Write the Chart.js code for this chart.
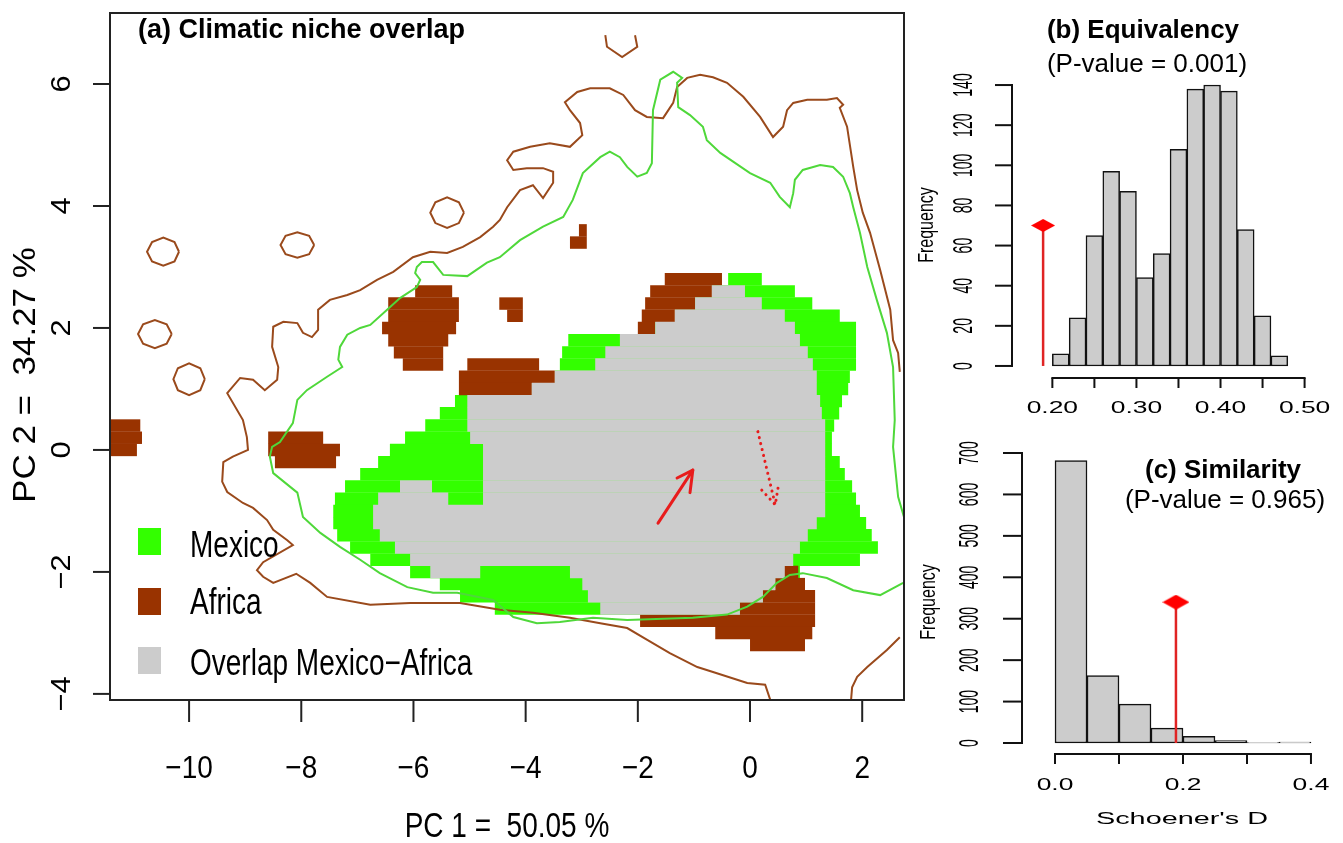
<!DOCTYPE html>
<html><head><meta charset="utf-8">
<script src="https://cdn.jsdelivr.net/npm/chart.js@4.4.0/dist/chart.umd.min.js"></script>
<style>
html,body{margin:0;padding:0;background:#fff;width:1343px;height:843px;overflow:hidden;}
canvas{position:absolute;}
#ca{left:0;top:0;width:915px;height:843px;}
#cb{left:915px;top:0;width:428px;height:420px;}
#cc{left:915px;top:420px;width:428px;height:423px;}
</style></head><body>
<canvas id="ca" width="915" height="843"></canvas>
<canvas id="cb" width="428" height="420"></canvas>
<canvas id="cc" width="428" height="423"></canvas>
<script>
// ---------- Panel (a): climatic niche overlap (PC1 / PC2 space) ----------
// grid cells: [PC2 row, PC1 start, PC1 end]
const mexicoCells = [
[2.8,-0.39,0.21],[2.6,-0.68,0.80],[2.4,-0.98,1.11],[2.2,-1.34,1.60],[2.0,-1.69,1.89],
[1.8,-3.24,1.89],[1.6,-3.35,1.89],[1.4,-3.39,1.89],[1.2,-3.48,1.78],[1.0,-3.89,1.75],
[0.8,-5.26,1.64],[0.6,-5.53,1.59],[0.4,-5.79,1.50],[0.2,-6.15,1.46],[0.0,-6.42,1.46],
[-0.2,-6.63,1.60],[-0.4,-6.95,1.69],[-0.6,-7.22,1.82],[-0.8,-7.40,1.89],[-1.0,-7.43,1.96],
[-1.2,-7.43,2.07],[-1.4,-7.36,2.17],[-1.6,-7.13,2.28],[-1.8,-6.77,1.96],[-2.0,-6.06,0.89],
[-2.2,-5.53,0.45],[-2.4,-5.17,0.23],[-2.6,-4.55,-0.18]
];
const africaCells = [
[3.6,-3.05,-2.91],[3.4,-3.21,-2.91],
[2.8,-1.52,-0.50],
[2.6,-1.78,-0.68],[2.6,-5.97,-5.31],
[2.4,-1.87,-0.98],[2.4,-6.45,-5.19],[2.4,-4.47,-4.05],
[2.2,-1.93,-1.34],[2.2,-6.45,-5.19],[2.2,-4.33,-4.05],
[2.0,-2.00,-1.69],[2.0,-6.56,-5.24],
[1.8,-6.45,-5.38],[1.6,-6.35,-5.47],
[1.4,-6.19,-5.47],[1.4,-5.04,-3.76],
[1.2,-5.19,-3.48],[1.0,-5.19,-3.89],
[0.4,-11.41,-10.87],
[0.2,-11.41,-10.84],[0.2,-8.59,-7.61],
[0.0,-11.41,-10.93],[0.0,-8.59,-7.31],
[-0.2,-8.47,-7.38],
[-2.0,0.53,0.86],[-2.2,0.45,0.98],[-2.4,0.23,1.16],[-2.6,-0.18,1.16],
[-2.8,-1.96,1.16],[-3.0,-0.62,1.11],[-3.2,0.00,0.98]
];
const overlapCells = [
[2.6,-0.68,-0.09],[2.4,-0.98,0.21],[2.2,-1.34,0.62],[2.0,-1.69,0.80],[1.8,-2.32,0.89],
[1.6,-2.58,1.03],[1.4,-2.76,1.12],[1.2,-3.48,1.19],[1.0,-3.89,1.19],[0.8,-5.04,1.25],
[0.6,-5.04,1.28],[0.4,-5.04,1.34],[0.2,-4.99,1.34],[0.0,-4.76,1.34],[-0.2,-4.76,1.34],
[-0.4,-4.76,1.34],[-0.6,-6.24,-5.67],[-0.6,-4.76,1.34],[-0.8,-6.63,-5.38],[-0.8,-4.76,1.34],
[-1.0,-6.72,1.34],[-1.2,-6.72,1.19],[-1.4,-6.60,1.03],[-1.6,-6.33,0.89],[-1.8,-6.06,0.77],
[-2.0,-5.70,-4.81],[-2.0,-3.21,0.62],[-2.2,-2.99,0.45],[-2.4,-2.89,0.23],[-2.6,-2.67,-0.18]
];
// contour lines [PC1, PC2]
const africaContourMain = [
[0.45,-4.34],[0.27,-3.85],[-0.05,-3.82],[-0.66,-3.64],[-0.94,-3.56],[-1.43,-3.33],[-1.84,-3.11],[-2.19,-2.92],[-2.67,-2.84],[-3.21,-2.75],[-3.87,-2.67],[-4.46,-2.62],[-5.17,-2.51],[-6.06,-2.51],[-6.77,-2.54],[-7.54,-2.41],[-7.84,-2.18],[-8.09,-2.03],[-8.50,-2.18],[-8.68,-2.08],[-8.79,-1.97],[-8.68,-1.84],[-8.15,-1.56],[-8.25,-1.48],[-8.50,-1.31],[-8.61,-1.15],[-8.86,-0.95],[-9.04,-0.87],[-9.32,-0.69],[-9.41,-0.52],[-9.39,-0.20],[-9.22,-0.11],[-8.95,0],[-8.97,0.21],[-9.04,0.49],[-9.32,0.93],[-9.09,1.18],[-8.86,1.15],[-8.65,0.98],[-8.43,1.15],[-8.41,1.36],[-8.52,1.69],[-8.50,2.02],[-8.32,2.10],[-8.07,2.08],[-7.97,1.92],[-7.81,1.85],[-7.70,1.97],[-7.70,2.30],[-7.49,2.46],[-7.18,2.54],[-6.95,2.62],[-6.65,2.79],[-6.36,2.92],[-6.01,3.16],[-5.70,3.25],[-5.40,3.23],[-5.12,3.33],[-4.81,3.49],[-4.58,3.66],[-4.46,3.77],[-4.33,3.98],[-4.10,4.26],[-3.87,4.34],[-3.69,4.13],[-3.51,4.38],[-3.51,4.56],[-3.69,4.62],[-3.98,4.62],[-4.22,4.59],[-4.33,4.75],[-4.22,4.89],[-3.92,4.97],[-3.57,5.03],[-3.21,4.97],[-2.99,5.16],[-3.03,5.36],[-3.21,5.57],[-3.30,5.70],[-3.08,5.87],[-2.85,5.93],[-2.50,5.93],[-2.26,5.82],[-2.05,5.57],[-1.84,5.46],[-1.55,5.44],[-1.37,5.69],[-1.30,5.95],[-1.12,6.10],[-0.89,6.15],[-0.66,6.11],[-0.41,6.02],[-0.12,5.79],[0.18,5.46],[0.41,5.13],[0.59,5.30],[0.66,5.57],[0.77,5.69],[1.02,5.74],[1.37,5.74],[1.55,5.77],[1.66,5.66],[1.60,5.61],[1.73,5.30],[1.84,4.64],[1.91,4.26],[2.01,3.89],[2.14,3.56],[2.32,2.95],[2.50,2.30],[2.55,1.80],[2.64,1.59],[2.67,1.28]
];
const africaContourCorner = [[2.67,-3.07],[2.44,-3.28],[2.09,-3.56],[1.91,-3.72],[1.82,-3.89],[1.78,-4.34]];
const africaContourTop = [[-2.58,6.80],[-2.55,6.61],[-2.28,6.44],[-2.01,6.61],[-2.05,6.80]];
const africaRing1 = [[-10.18,3.25],[-10.26,3.41],[-10.46,3.48],[-10.66,3.41],[-10.75,3.25],[-10.66,3.09],[-10.46,3.02],[-10.26,3.09],[-10.18,3.25]];
const africaRing2 = [[-7.77,3.36],[-7.86,3.51],[-8.07,3.57],[-8.28,3.51],[-8.37,3.36],[-8.28,3.21],[-8.07,3.15],[-7.86,3.21],[-7.77,3.36]];
const africaRing3 = [[-5.10,3.89],[-5.19,4.06],[-5.40,4.14],[-5.61,4.06],[-5.70,3.89],[-5.61,3.72],[-5.40,3.64],[-5.19,3.72],[-5.10,3.89]];
const africaRing4 = [[-10.31,1.90],[-10.40,2.06],[-10.61,2.13],[-10.82,2.06],[-10.91,1.90],[-10.82,1.74],[-10.61,1.67],[-10.40,1.74],[-10.31,1.90]];
const africaRing5 = [[-9.72,1.16],[-9.80,1.34],[-10.00,1.42],[-10.20,1.34],[-10.28,1.16],[-10.20,0.98],[-10.00,0.90],[-9.80,0.98],[-9.72,1.16]];
const mexicoContour = [
[2.73,-2.18],[2.32,-2.38],[1.84,-2.30],[1.37,-2.10],[0.94,-2.02],[0.71,-2.05],[0.48,-2.18],[0.23,-2.41],[-0.05,-2.57],[-0.41,-2.70],[-1.02,-2.75],[-2.19,-2.79],[-2.80,-2.75],[-3.39,-2.82],[-3.80,-2.84],[-4.22,-2.74],[-4.58,-2.46],[-5.22,-2.34],[-5.65,-2.34],[-6.11,-2.25],[-6.60,-2.02],[-6.95,-1.80],[-7.31,-1.59],[-7.66,-1.36],[-7.97,-1.10],[-8.07,-0.70],[-8.50,-0.38],[-8.56,-0.11],[-8.52,0.05],[-8.38,0.13],[-8.15,0.44],[-8.07,0.82],[-7.90,0.98],[-7.54,1.20],[-7.27,1.36],[-7.34,1.48],[-7.31,1.69],[-7.18,1.89],[-6.95,2.00],[-6.77,2.05],[-6.47,2.30],[-6.24,2.49],[-5.94,2.67],[-5.88,2.79],[-5.97,2.90],[-5.94,3.00],[-5.85,3.08],[-5.65,3.08],[-5.47,2.87],[-5.04,2.85],[-4.69,3.07],[-4.46,3.16],[-4.10,3.44],[-3.69,3.66],[-3.33,3.82],[-3.16,4.10],[-2.98,4.54],[-2.67,4.80],[-2.50,4.89],[-2.32,4.80],[-2.19,4.64],[-2.01,4.48],[-1.84,4.54],[-1.75,4.70],[-1.73,5.57],[-1.60,6.07],[-1.37,6.20],[-1.21,6.10],[-1.30,6.02],[-1.28,5.62],[-1.07,5.49],[-0.84,5.30],[-0.77,5.08],[-0.53,4.87],[0,4.54],[0.36,4.38],[0.53,4.15],[0.71,3.98],[0.77,4.21],[0.80,4.43],[0.94,4.59],[1.25,4.67],[1.48,4.64],[1.66,4.48],[1.78,4.21],[1.84,3.98],[1.96,3.56],[2.09,3.00],[2.26,2.46],[2.44,1.92],[2.55,1.36],[2.58,0.49],[2.55,0.05],[2.64,-0.77],[2.76,-1.15]
];
const shiftArrowShaft = [[-1.64,-1.20],[-1.02,-0.33]];
const shiftArrowHead = [[-1.30,-0.46],[-1.02,-0.33],[-1.07,-0.70]];
const centroidArrowShaft = [[0.14,0.30],[0.45,-0.90]];
const centroidArrowHead = [[0.21,-0.66],[0.45,-0.90],[0.50,-0.62]];
const aTicksX = [-10,-8,-6,-4,-2,0,2];
const aTicksY = [-4,-2,0,2,4,6];
const legendLabels = ['Mexico','Africa','Overlap Mexico\u2212Africa'];

// ---------- Panel (b): equivalency test ----------
const equivBinMid = [0.21,0.23,0.25,0.27,0.29,0.31,0.33,0.35,0.37,0.39,0.41,0.43,0.45,0.47];
const equivCounts = [6,24,65,97,87,44,56,108,138,140,137,68,25,5];
const equivObsD = 0.189, equivObsH = 70;
const bTicksY = [0,20,40,60,80,100,120,140];
const bTicksX = [0.20,0.25,0.30,0.35,0.40,0.45,0.50];
const bLabelsX = [0.20,0.30,0.40,0.50];

// ---------- Panel (c): similarity test ----------
const simBinMid = [0.025,0.075,0.125,0.175,0.225,0.275,0.325,0.375];
const simCounts = [682,163,94,36,16,6,1,2];
const simObsD = 0.189, simObsH = 340;
const cTicksY = [0,100,200,300,400,500,600,700];
const cTicksX = [0,0.1,0.2,0.3,0.4];
const cLabelsX = [0,0.2,0.4];

// ---------- helpers ----------
const FONT = '"Liberation Sans", Arial, Helvetica, sans-serif';
const C_MEX = '#33ff00', C_AFR = '#993300', C_OVL = '#cccccc';
function txt(ctx, s, x, y, o) {
  ctx.save();
  ctx.translate(x, y);
  ctx.scale(o.sx || 1, o.sy || 1);
  if (o.rot) ctx.rotate(-Math.PI / 2);
  ctx.font = o.font;
  ctx.fillStyle = o.color || '#000';
  ctx.textAlign = o.align || 'center';
  ctx.textBaseline = 'alphabetic';
  ctx.fillText(s, 0, 0);
  ctx.restore();
}
function seg(ctx, x1, y1, x2, y2) { ctx.beginPath(); ctx.moveTo(x1, y1); ctx.lineTo(x2, y2); ctx.stroke(); }
function fmtMinus(v) { return v < 0 ? '\u2212' + Math.abs(v) : String(v); }
function cells(arr) { return arr.map(c => ({y: c[0], x: [c[1], c[2]]})); }
function pts(arr) { return arr.map(p => ({x: p[0], y: p[1]})); }
function lineDs(arr, color, w, extra) {
  return Object.assign({type: 'scatter', data: pts(arr), showLine: true, borderColor: color, backgroundColor: color,
    borderWidth: w, pointRadius: 0, fill: false, tension: 0, order: 1}, extra || {});
}
function cellDs(label, arr, color, order) {
  return {type: 'bar', indexAxis: 'y', label, data: cells(arr), backgroundColor: color, borderWidth: 0,
    grouped: false, barPercentage: 1.02, categoryPercentage: 1, order};
}
function diamond(w, h, color) {
  const c = document.createElement('canvas'); c.width = w; c.height = h;
  const g = c.getContext('2d'); g.fillStyle = color; g.beginPath();
  g.moveTo(0, h / 2); g.lineTo(w / 2, 0); g.lineTo(w, h / 2); g.lineTo(w / 2, h); g.closePath(); g.fill();
  return c;
}

// ---------- Panel (a) chart ----------
const BROWN_LINE = '#9a4a1c', GREEN_LINE = '#4fd83a', RED = '#e81c1c';
const panelA = {
  id: 'panelA',
  afterDraw(chart) {
    const {ctx, chartArea: a, scales: {x, y}} = chart;
    ctx.save();
    ctx.strokeStyle = '#222'; ctx.lineWidth = 2;
    ctx.strokeRect(a.left, a.top, a.right - a.left, a.bottom - a.top);
    aTicksX.forEach(v => {
      const p = x.getPixelForValue(v);
      seg(ctx, p, a.bottom, p, a.bottom + 22);
      txt(ctx, fmtMinus(v), p, 778, {font: '28px ' + FONT, sy: 1.15});
    });
    aTicksY.forEach(v => {
      const p = y.getPixelForValue(v);
      seg(ctx, a.left - 17, p, a.left, p);
      txt(ctx, fmtMinus(v), 70, p, {font: '28px ' + FONT, sy: 1.1, rot: true});
    });
    txt(ctx, 'PC 1 =  50.05 %', 507, 837, {font: '28px ' + FONT, sy: 1.25});
    txt(ctx, 'PC 2 =  34.27 %', 35, 375, {font: '28px ' + FONT, sx: 1.1, sy: 1.25, rot: true});
    txt(ctx, '(a) Climatic niche overlap', 138, 38, {font: 'bold 27px ' + FONT, align: 'left'});
    const cols = [C_MEX, C_AFR, C_OVL];
    const boxes = [[528, 557], [588, 614], [647, 675]];
    legendLabels.forEach((l, i) => {
      ctx.fillStyle = cols[i];
      ctx.fillRect(138, boxes[i][0], 23, 27);
      txt(ctx, l, 190, boxes[i][1], {font: '28px ' + FONT, sy: 1.3, align: 'left'});
    });
    ctx.restore();
  }
};
new Chart(document.getElementById('ca'), {
  type: 'scatter',
  data: {datasets: [
    lineDs(shiftArrowShaft, RED, 3, {order: 0, borderCapStyle: 'round'}),
    lineDs(shiftArrowHead, RED, 3, {order: 0, borderCapStyle: 'round', borderJoinStyle: 'round'}),
    lineDs(centroidArrowShaft, RED, 3, {order: 0, borderDash: [0.1, 6], borderCapStyle: 'round'}),
    lineDs(centroidArrowHead, RED, 3, {order: 0, borderDash: [0.1, 6], borderCapStyle: 'round'}),
    lineDs(mexicoContour, GREEN_LINE, 2),
    lineDs(africaContourMain, BROWN_LINE, 2),
    lineDs(africaContourCorner, BROWN_LINE, 2),
    lineDs(africaContourTop, BROWN_LINE, 2),
    lineDs(africaRing1, BROWN_LINE, 2),
    lineDs(africaRing2, BROWN_LINE, 2),
    lineDs(africaRing3, BROWN_LINE, 2),
    lineDs(africaRing4, BROWN_LINE, 2),
    lineDs(africaRing5, BROWN_LINE, 2),
    cellDs('Overlap Mexico\u2212Africa', overlapCells, C_OVL, 3),
    cellDs('Africa', africaCells, C_AFR, 4),
    cellDs('Mexico', mexicoCells, C_MEX, 5)
  ]},
  options: {
    responsive: false, animation: false, devicePixelRatio: 1, events: [],
    layout: {padding: {left: 110, top: 13, right: 11, bottom: 143}},
    scales: {
      x: {type: 'linear', display: false, offset: false, min: -11.41, max: 2.745, ticks: {stepSize: 2, includeBounds: false}},
      y: {type: 'linear', display: false, offset: false, min: -4.1, max: 7.164, ticks: {stepSize: 2, includeBounds: false}}
    },
    plugins: {legend: {display: false}, tooltip: {enabled: false}}
  },
  plugins: [panelA]
});

// ---------- histogram panels ----------
function histAxes(cfg) {
  return {
    id: 'hax' + cfg.id,
    afterDraw(chart) {
      const {ctx, chartArea: a, scales: {x, y}} = chart;
      ctx.save();
      ctx.strokeStyle = '#111'; ctx.lineWidth = 2;
      const ty = cfg.ticksY, tx = cfg.ticksX;
      seg(ctx, a.left, y.getPixelForValue(ty[0]) + 1, a.left, y.getPixelForValue(ty[ty.length - 1]) - 1);
      ty.forEach(v => {
        const p = y.getPixelForValue(v);
        seg(ctx, a.left - cfg.yTickLen, p, a.left, p);
        txt(ctx, String(v), cfg.yLabX, p, {font: '16px ' + FONT, sx: 1.7, sy: 0.88, rot: true});
      });
      seg(ctx, x.getPixelForValue(tx[0]) - 1, a.bottom, x.getPixelForValue(tx[tx.length - 1]) + 1, a.bottom);
      tx.forEach(v => { const p = x.getPixelForValue(v); seg(ctx, p, a.bottom, p, a.bottom + 10); });
      cfg.labelsX.forEach(v => {
        txt(ctx, v.toFixed(cfg.dec), x.getPixelForValue(v), cfg.xLabY, {font: '16px ' + FONT, sx: 1.65, sy: 1.0});
      });
      txt(ctx, 'Frequency', cfg.freqX, cfg.freqY, {font: '16px ' + FONT, sx: 1.4, sy: 1.0, rot: true});
      if (cfg.xTitle) txt(ctx, cfg.xTitle[0], cfg.xTitle[1], cfg.xTitle[2], {font: '16px ' + FONT, sx: 1.8, sy: 1.0});
      cfg.titles.forEach(t => txt(ctx, t[0], t[1], t[2], {font: t[3] + ' ' + FONT}));
      ctx.restore();
    }
  };
}
function histChart(id, mids, counts, obsD, obsH, dia, xr, yr, pad, stepX, cfg) {
  return new Chart(document.getElementById(id), {
    type: 'bar',
    data: {datasets: [
      {type: 'scatter', data: [{x: obsD, y: 0}, {x: obsD, y: obsH}], showLine: true, borderColor: '#e02424',
        borderWidth: 2.5, pointRadius: [0, 8], pointStyle: dia, order: 0},
      {type: 'bar', data: mids.map((m, i) => ({x: m, y: counts[i]})), backgroundColor: '#cccccc',
        borderColor: '#111', borderWidth: 1.5, borderSkipped: false, barPercentage: 1, categoryPercentage: 1, order: 1}
    ]},
    options: {
      responsive: false, animation: false, devicePixelRatio: 1, events: [],
      layout: {padding: pad},
      scales: {
        x: {type: 'linear', display: false, offset: false, min: xr[0], max: xr[1], ticks: {stepSize: stepX, includeBounds: false}},
        y: {type: 'linear', display: false, offset: false, min: yr[0], max: yr[1], ticks: {includeBounds: false}}
      },
      plugins: {legend: {display: false}, tooltip: {enabled: false}}
    },
    plugins: [histAxes(cfg)]
  });
}
histChart('cb', equivBinMid, equivCounts, equivObsD, equivObsH, diamond(24, 13, '#ff0000'),
  [0.152, 0.51], [-6, 146], {left: 97, right: 30, top: 73, bottom: 42}, 0.05,
  {id: 'b', ticksY: bTicksY, ticksX: bTicksX, labelsX: bLabelsX, dec: 2, yTickLen: 17, yLabX: 57, xLabY: 413,
   freqX: 18, freqY: 225,
   titles: [['(b) Equivalency', 228, 38, 'bold 26px'], ['(P-value = 0.001)', 232, 72, '26px']]});
histChart('cc', simBinMid, simCounts, simObsD, simObsH, diamond(27, 15, '#ff0000'),
  [-0.0516, 0.411], [-26.55, 731.4], {left: 107, right: 25, top: 20, bottom: 89}, 0.1,
  {id: 'c', ticksY: cTicksY, ticksX: cTicksX, labelsX: cLabelsX, dec: 1, yTickLen: 19, yLabX: 63, xLabY: 370,
   freqX: 20, freqY: 182, xTitle: ["Schoener's D", 267, 404],
   titles: [['(c) Similarity', 308, 58, 'bold 26px'], ['(P-value = 0.965)', 310, 88, '26px']]});
</script>
</body></html>
